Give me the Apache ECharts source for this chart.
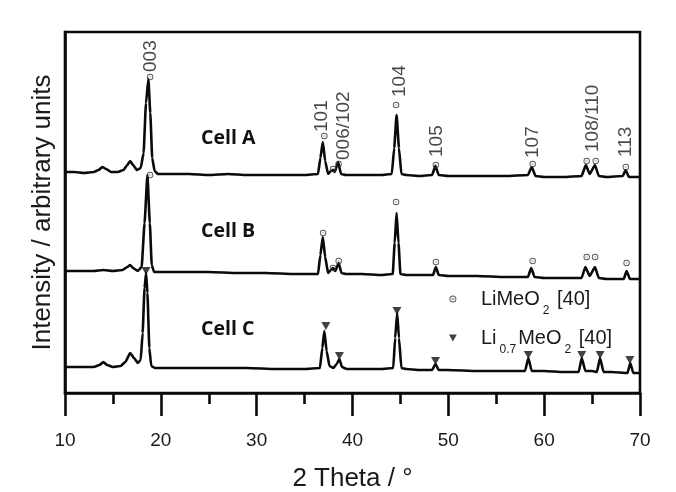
<!DOCTYPE html>
<html><head><meta charset="utf-8">
<script src="https://cdn.jsdelivr.net/npm/echarts/dist/echarts.min.js"></script>
<style>html,body{margin:0;padding:0;background:#fff}#c{width:676px;height:492px}</style>
</head><body><div id="c"></div>
<script>
// ---- data (2θ in degrees, intensity in arbitrary units, offset stacked) ----
const xTickValues = [10, 20, 30, 40, 50, 60, 70];

const cellA = [
[10.0,221],[11.0,221],[12.0,220],[13.0,221],[13.5,223],[13.9,226],[14.3,224],[14.8,221],[15.5,221],[16.1,223],[16.5,228],[16.8,232],[17.1,228],[17.5,223],[17.9,225],[18.2,240],[18.45,290],[18.7,314],[18.9,280],[19.1,235],[19.35,222],[19.7,219],[21,219],[23,219],[25,218],[27,219],[29,218],[31,218],[33,218],[35,218],[36.4,219],[36.65,235],[36.9,251],[37.15,232],[37.45,219],[37.75,222],[37.95,223],[38.15,221],[38.5,231],[38.8,219],[39.3,218],[41,218],[43,218],[44.1,219],[44.35,245],[44.6,278],[44.85,245],[45.1,219],[45.6,218],[47,217],[48.3,218],[48.65,227],[49.0,218],[50,217],[52,217],[54,217],[56,217],[58.3,218],[58.7,226],[59.1,217],[60,216],[62,216],[63.9,217],[64.35,228],[64.75,219],[65.3,228],[65.7,217],[66.5,216],[68.2,217],[68.5,223],[68.85,216],[70,216]
];
const cellB = [
[10,122],[11.5,122],[13,122],[14,123],[15,122],[16,123],[16.5,126],[16.8,128],[17.1,125],[17.6,122],[18.0,126],[18.3,170],[18.6,218],[18.85,170],[19.05,128],[19.3,121],[19.8,121],[22,121],[25,121],[28,120],[31,120],[34,119],[36.4,119],[36.65,138],[36.9,156],[37.15,136],[37.45,120],[37.75,123],[37.97,125],[38.2,122],[38.56,130],[38.85,120],[39.3,119],[41,119],[43,118],[44.2,119],[44.4,150],[44.6,180],[44.8,150],[45.0,119],[45.6,118],[47,118],[48.4,118],[48.7,126],[49.0,118],[50,117],[53,117],[56,116],[58.3,116],[58.65,125],[59.0,116],[60,115],[62,115],[63.9,115],[64.3,126],[64.75,117],[65.3,126],[65.7,115],[66.5,114],[68.3,114],[68.6,122],[68.95,114],[70,114]
];
const cellC = [
[10,26],[11.5,26],[13,26],[13.6,28],[14.0,31],[14.4,28],[15,26],[15.8,27],[16.3,31],[16.8,40],[17.2,35],[17.6,30],[17.9,33],[18.1,60],[18.3,105],[18.46,120],[18.6,100],[18.8,45],[19.0,27],[19.4,25],[20,25],[23,25],[26,25],[29,25],[32,24],[35,24],[36.6,25],[36.85,45],[37.06,62],[37.3,42],[37.6,27],[38.0,25],[38.35,29],[38.63,34],[38.9,26],[39.4,24],[41,24],[43,24],[44.25,25],[44.45,55],[44.66,80],[44.85,55],[45.1,25],[45.6,24],[47,23],[48.3,23],[48.66,29],[49.0,23],[50,23],[53,22],[56,22],[58.0,22],[58.35,35],[58.7,22],[60,22],[62,21],[63.6,21],[63.92,35],[64.3,22],[65.0,22],[65.5,21],[65.83,35],[66.2,21],[67,21],[68.7,20],[68.98,30],[69.3,20],[70,20]
];

// reflection markers
const limeoMarks = [
[18.88,316],[37.06,257],[37.97,224],[38.55,229],[44.55,288],[48.7,228],[58.8,229],[64.44,232],[65.38,232],[68.52,226],
[18.88,218],[36.93,160],[37.97,125],[38.56,132],[44.55,191],[48.7,131],[58.8,132],[64.44,136],[65.31,136],[68.6,130]
];
const li07Marks = [[18.46,122],[37.22,67],[38.63,37],[44.64,82],[48.66,32],[58.35,38],[63.92,38],[65.83,38],[68.94,33]];

// Miller index labels (Cell A)
const hklText = ['003','101','006/102','104','105','107','108/110','113'];
const hklX    = [18.9, 36.81, 39.05, 44.9, 48.84, 58.8, 65.07, 68.52];
const hklY    = [321, 261, 233, 296, 236, 235, 241, 236];

const cellNames = ['Cell A','Cell B','Cell C'];
const seriesNames = ['LiMeO2','Li0.7MeO2'];

// ---- chart ----
const F = '"Liberation Sans", Arial, sans-serif';
const INK = '#0a0a0a';
const circleDash = 'path://M0,5A5,5,0,1,1,10,5A5,5,0,1,1,0,5Z M1.4,5A3.6,3.6,0,1,0,8.6,5A3.6,3.6,0,1,0,1.4,5Z M3,4.45L7,4.45L7,5.55L3,5.55Z';
const triDown = 'path://M0,0L10,0L5,9Z';

const chart = echarts.init(document.getElementById('c'), null, {renderer:'canvas'});
chart.setOption({
  animation: false,
  backgroundColor: '#fff',
  grid: {left: 65, right: 36, top: 32, bottom: 99, outerBoundsMode: 'none', containLabel: false,
    show: true, borderColor: INK, borderWidth: 2.6, backgroundColor: 'transparent'},
  xAxis: {
    type: 'value', min: xTickValues[0], max: xTickValues[xTickValues.length-1], interval: 10,
    axisLine: {show: true, lineStyle: {color: INK, width: 2.6}},
    axisTick: {show: true, length: 23, lineStyle: {color: INK, width: 2.6}},
    minorTick: {show: true, splitNumber: 2, length: 11, lineStyle: {color: INK, width: 2.6}},
    splitLine: {show: false},
    axisLabel: {margin: 38, fontSize: 19, color: '#1a1a1a', fontFamily: F},
    name: '2 Theta / °', nameLocation: 'middle', nameGap: 73,
    nameTextStyle: {fontSize: 26, color: '#1a1a1a', fontFamily: F}
  },
  yAxis: {
    type: 'value', min: 0, max: 361,
    axisLine: {show: true, lineStyle: {color: INK, width: 2.6}},
    axisTick: {show: false}, axisLabel: {show: false}, splitLine: {show: false},
    name: 'Intensity / arbitrary units', nameLocation: 'middle', nameGap: 9,
    nameTextStyle: {fontSize: 26, color: '#1a1a1a', fontFamily: F}
  },
  legend: {
    data: seriesNames, orient: 'vertical', left: 444, top: 284,
    itemWidth: 46, itemHeight: 7, itemGap: 11, selectedMode: false,
    formatter: function (n) {
      return n === seriesNames[0] ? '{t|LiMeO}{s|2}{t| [40]}' : '{t|Li}{s|0.7}{t|MeO}{s|2}{t| [40]}';
    },
    textStyle: {
      rich: {
        t: {fontSize: 20, fontFamily: F, color: '#1a1a1a', lineHeight: 24},
        s: {fontSize: 12, fontFamily: F, color: '#1a1a1a', padding: [24, 2, 0, 3]}
      }
    }
  },
  series: [
    {type: 'line', name: cellNames[0], data: cellA, showSymbol: false, symbol: 'none', smooth: 0.15, smoothMonotone: 'x', lineStyle: {color: INK, width: 2.6}, z: 2},
    {type: 'line', name: cellNames[1], data: cellB, showSymbol: false, symbol: 'none', smooth: 0.15, smoothMonotone: 'x', lineStyle: {color: INK, width: 2.6}, z: 2},
    {type: 'line', name: cellNames[2], data: cellC, showSymbol: false, symbol: 'none', smooth: 0.15, smoothMonotone: 'x', lineStyle: {color: INK, width: 2.6}, z: 2},
    {type: 'scatter', name: seriesNames[0], data: limeoMarks, symbol: circleDash, symbolSize: 6.5, itemStyle: {color: '#333'}, z: 4},
    {type: 'scatter', name: seriesNames[1], data: li07Marks, symbol: triDown, symbolSize: [9, 8], itemStyle: {color: '#111'}, z: 4},
    {type: 'scatter', name: 'hkl', data: hklText.map((t, i) => [hklX[i], hklY[i], t]), symbolSize: 0.1,
      itemStyle: {color: 'transparent'}, silent: true, z: 5,
      label: {show: true, position: 'inside', rotate: 90, align: 'left', verticalAlign: 'middle',
        formatter: p => p.value[2], fontSize: 19, color: '#1a1a1a', fontFamily: F}}
  ],
  graphic: [
    {type: 'text', left: 201, top: 128, style: {text: cellNames[0], font: 'bold 19.5px "Open Sans"', fill: '#111'}},
    {type: 'text', left: 201, top: 221, style: {text: cellNames[1], font: 'bold 19.5px "Open Sans"', fill: '#111'}},
    {type: 'text', left: 201, top: 319, style: {text: cellNames[2], font: 'bold 19.5px "Open Sans"', fill: '#111'}}
  ]
});
</script></body></html>
